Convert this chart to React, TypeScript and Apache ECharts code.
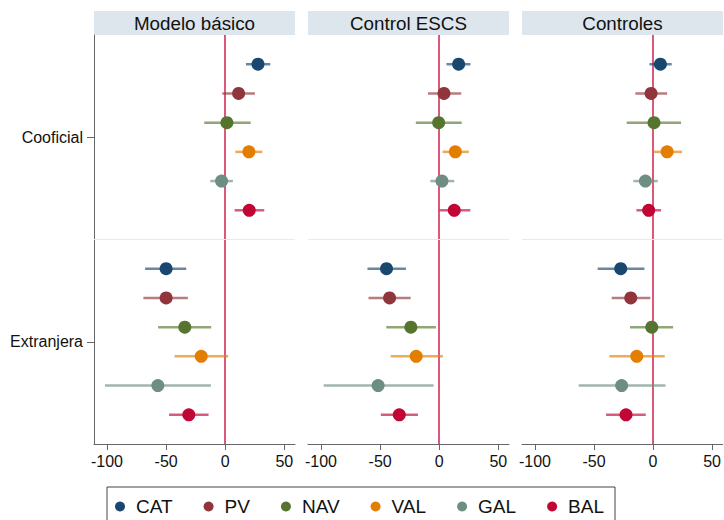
import React, { useEffect, useRef } from 'react';
import * as echarts from 'echarts';

const states = ['CAT', 'PV', 'NAV', 'VAL', 'GAL', 'BAL'];
const stateColors = ['#1a476f', '#90353b', '#55752f', '#e37e00', '#6e8e84', '#c10534'];
const groups = ['Cooficial', 'Extranjera'];
const panels = ['Modelo básico', 'Control ESCS', 'Controles'];
const xTicks = [-100, -50, 0, 50];

// order: Cooficial CAT..BAL, then Extranjera CAT..BAL
const coefBasico = [27.7, 11.3, 1.4, 20.0, -3.1, 20.3, -50.0, -50.0, -34.2, -20.3, -57.0, -30.8];
const loBasico = [17.5, -2.5, -17.8, 8.5, -12.7, 7.9, -67.8, -69.2, -56.8, -42.9, -101.7, -47.5];
const hiBasico = [38.1, 25.1, 21.5, 31.4, 6.5, 33.0, -33.0, -31.6, -11.9, 2.5, -12.1, -14.1];

const coefEscs = [16.4, 4.0, -0.5, 13.6, 2.3, 12.7, -44.6, -42.0, -24.0, -19.5, -51.7, -33.8];
const loEscs = [6.1, -9.6, -19.8, 2.8, -7.6, 0.3, -60.7, -59.8, -44.8, -41.1, -97.7, -49.4];
const hiEscs = [26.4, 18.6, 19.0, 25.0, 12.7, 26.3, -28.2, -24.2, -2.8, 3.1, -4.8, -18.0];

const coefControles = [6.2, -1.7, 0.8, 11.9, -6.5, -3.7, -27.4, -18.9, -1.1, -13.8, -26.6, -22.9];
const loControles = [-3.1, -15.0, -22.3, 0.0, -16.7, -14.1, -46.9, -35.0, -19.5, -37.0, -63.0, -39.8];
const hiControles = [15.8, 11.9, 23.7, 24.6, 4.0, 6.8, -7.3, -2.3, 17.0, 9.9, 10.5, -6.2];

const panelCoef = [coefBasico, coefEscs, coefControles];
const panelLo = [loBasico, loEscs, loControles];
const panelHi = [hiBasico, hiEscs, hiControles];

const FONT = '"Liberation Sans", Arial, sans-serif';
const TEXT = '#111111';
const AXIS = '#666666';

const GRID_LEFT = 94;
const GRID_STEP = 214;
const GRID_W = 201;
const GRID_TOP = 35;
const GRID_H = 409;

// row layout: group separated by an empty slot
const rowPos = (g: number, s: number) => g * 7 + s + 1;
const groupPos = [3.5, 10.5];

export default function App() {
  const ref = useRef<HTMLDivElement>(null);

  useEffect(() => {
    if (!ref.current) return;
    const chart = echarts.init(ref.current, null, { renderer: 'svg' });

    const grids = panels.map((_, p) => ({
      left: GRID_LEFT + p * GRID_STEP,
      top: GRID_TOP,
      width: GRID_W,
      height: GRID_H,
      containLabel: false,
    }));

    const xAxes = panels.map((_, p) => ({
      type: 'value',
      gridIndex: p,
      min: -111,
      max: 59,
      splitLine: { show: false },
      axisLine: { show: true, onZero: false, lineStyle: { color: AXIS, width: 1 } },
      axisTick: { show: true, length: 6, customValues: xTicks, lineStyle: { color: AXIS } },
      axisLabel: {
        customValues: xTicks,
        color: TEXT,
        fontFamily: FONT,
        fontSize: 16,
        margin: 9,
      },
    }));

    const yAxes = panels.map((_, p) => ({
      type: 'value',
      gridIndex: p,
      inverse: true,
      min: 0,
      max: 14,
      show: p === 0,
      splitLine: { show: false },
      axisLine: { show: true, onZero: false, lineStyle: { color: AXIS, width: 1 } },
      axisTick: { show: true, length: 7, customValues: groupPos, lineStyle: { color: AXIS } },
      axisLabel: {
        customValues: groupPos,
        formatter: (v: number) => groups[groupPos.indexOf(v)] ?? '',
        color: TEXT,
        fontFamily: FONT,
        fontSize: 16,
        margin: 11,
      },
    }));

    const series: any[] = [];
    panels.forEach((_, p) => {
      states.forEach((st, s) => {
        const color = stateColors[s];
        const scatter: any = {
          type: 'scatter',
          name: st,
          xAxisIndex: p,
          yAxisIndex: p,
          symbol: 'circle',
          symbolSize: 13,
          z: 4,
          itemStyle: { color, opacity: 1 },
          data: groups.map((__, g) => [panelCoef[p][g * 6 + s], rowPos(g, s)]),
        };
        if (s === 0) {
          scatter.markLine = {
            silent: true,
            symbol: 'none',
            z: 1,
            label: { show: false },
            emphasis: { disabled: true },
            data: [
              { xAxis: 0, lineStyle: { color: '#d43d63', width: 1.7, type: 'solid' } },
              { yAxis: 7, lineStyle: { color: '#e6eced', width: 1, type: 'solid' } },
            ],
          };
        }
        series.push(scatter);
        series.push({
          type: 'custom',
          name: st,
          xAxisIndex: p,
          yAxisIndex: p,
          z: 2,
          itemStyle: { color },
          encode: { x: [0, 1], y: 2 },
          data: groups.map((__, g) => [panelLo[p][g * 6 + s], panelHi[p][g * 6 + s], rowPos(g, s)]),
          renderItem: (params: any, api: any) => {
            const a = api.coord([api.value(0), api.value(2)]);
            const b = api.coord([api.value(1), api.value(2)]);
            return {
              type: 'line',
              shape: { x1: a[0], y1: a[1], x2: b[0], y2: b[1] },
              style: { stroke: color, lineWidth: 2.5, opacity: 0.65 },
            };
          },
        });
      });
    });

    const graphic: any[] = [];
    panels.forEach((title, p) => {
      const x = GRID_LEFT + p * GRID_STEP;
      graphic.push({
        type: 'rect',
        silent: true,
        shape: { x, y: 11, width: GRID_W, height: 24 },
        style: { fill: '#dce6ec' },
      });
      graphic.push({
        type: 'text',
        silent: true,
        x: x + GRID_W / 2,
        y: 23,
        style: {
          text: title,
          fill: TEXT,
          font: `18.8px ${FONT}`,
          align: 'center',
          verticalAlign: 'middle',
        },
      });
    });

    chart.setOption({
      animation: false,
      backgroundColor: '#ffffff',
      grid: grids,
      xAxis: xAxes,
      yAxis: yAxes,
      series,
      graphic,
      legend: {
        data: states.map((st) => ({ name: st, icon: 'circle' })),
        left: 107,
        top: 487,
        orient: 'horizontal',
        itemWidth: 22,
        itemHeight: 10,
        itemGap: 31,
        padding: [10, 11, 10, 8],
        borderColor: '#444444',
        borderWidth: 1,
        selectedMode: false,
        textStyle: { color: TEXT, fontFamily: FONT, fontSize: 19 },
      },
    });

    return () => chart.dispose();
  }, []);

  return (
    <div
      ref={ref}
      style={{ position: 'fixed', left: 0, top: 0, width: 724, height: 520, background: '#fff' }}
    />
  );
}
